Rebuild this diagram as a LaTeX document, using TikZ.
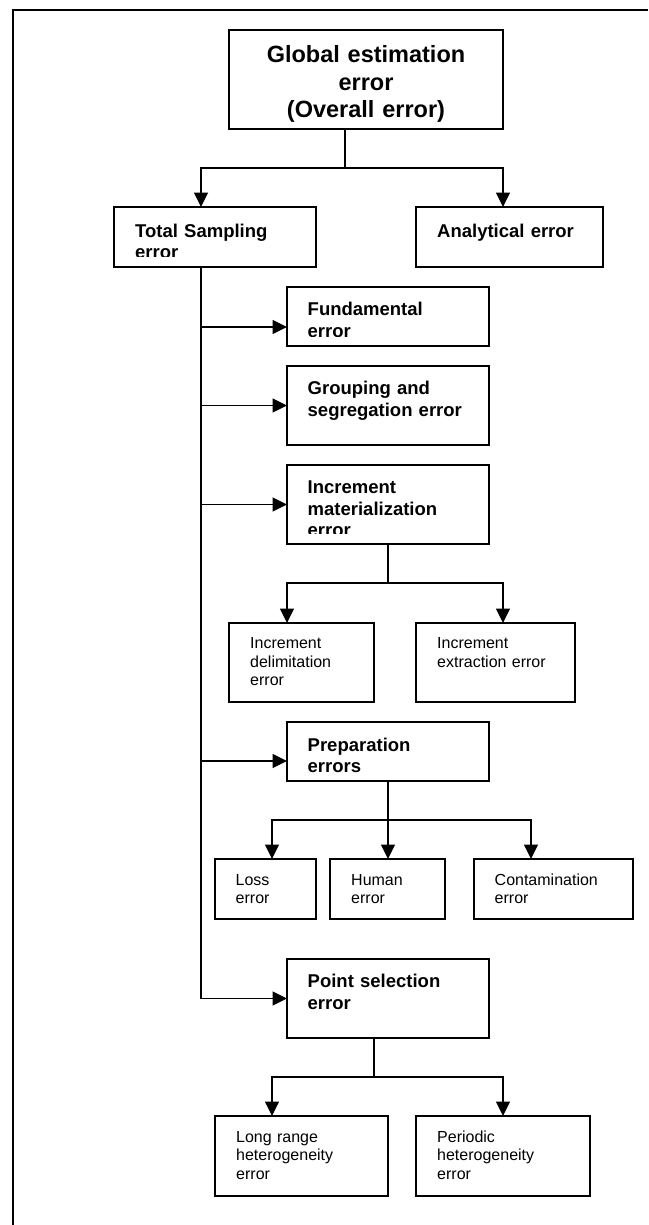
\documentclass[tikz,border=0pt]{standalone}
\usepackage{fontspec}
\setmainfont{Liberation Sans}
\usetikzlibrary{arrows.meta}
\begin{document}
\begin{tikzpicture}[x=1pt,y=-1pt,
  box/.style={draw, line width=2pt, inner sep=0pt, outer sep=0pt},
  wire/.style={line width=1.3pt},
  arr/.style={wire, -{Triangle[length=14.5pt,width=14pt]}},
  bigtxt/.style={font=\fontsize{23.5}{27.5}\selectfont\bfseries, inner sep=0pt,
    text width=274pt, align=center, anchor=base},
  boldtxt/.style={font=\fontsize{18.5}{21.6}\selectfont\bfseries, inner sep=0pt,
    text width=190pt, align=left, anchor=base west},
  plaintxt/.style={font=\fontsize{16}{18.5}\selectfont, inner sep=0pt,
    text width=150pt, align=left, anchor=base west},
]
\useasboundingbox (0,0) rectangle (648,1225);

% outer frame (only top and left edges fall inside the page)
\draw[line width=1.2pt] (13,1225) |- (648,10);

% boxes
\node[box, minimum width=274pt, minimum height=99pt] (title)  at (366,79.5) {};
\node[box, minimum width=202pt, minimum height=60pt] (tsamp)  at (215,237) {};
\node[box, minimum width=187pt, minimum height=60pt] (anal)   at (509.5,237) {};
\node[box, minimum width=202pt, minimum height=59pt] (fund)   at (388,316.5) {};
\node[box, minimum width=202pt, minimum height=79pt] (group)  at (388,405.5) {};
\node[box, minimum width=202pt, minimum height=79pt] (im)     at (388,504.5) {};
\node[box, minimum width=145pt, minimum height=79pt] (idel)   at (301.5,662.5) {};
\node[box, minimum width=159pt, minimum height=79pt] (iext)   at (495.5,662.5) {};
\node[box, minimum width=202pt, minimum height=59pt] (prep)   at (388,751.5) {};
\node[box, minimum width=101pt, minimum height=60pt] (loss)   at (265.5,889) {};
\node[box, minimum width=115pt, minimum height=60pt] (human)  at (387.5,889) {};
\node[box, minimum width=159pt, minimum height=60pt] (contam) at (553.5,889) {};
\node[box, minimum width=202pt, minimum height=79pt] (psel)   at (388,998.5) {};
\node[box, minimum width=173pt, minimum height=80pt] (lrange) at (301.5,1156) {};
\node[box, minimum width=174pt, minimum height=80pt] (period) at (503,1156) {};

% labels
\node[bigtxt] (titleT) at ([yshift=-33pt]title.north)
  {Global estimation\\error\\(Overall error)};
\begin{scope}
  \clip (tsamp.north west) rectangle ([yshift=10.5pt]tsamp.south east);
  \node[boldtxt] (tsampT) at ([xshift=21pt,yshift=-30pt]tsamp.north west) {Total Sampling\\error};
\end{scope}
\node[boldtxt] (analT) at ([xshift=21pt,yshift=-30pt]anal.north west) {Analytical error};
\begin{scope}
  \clip (fund.north west) rectangle ([yshift=10pt]fund.south east);
  \node[boldtxt] (fundT) at ([xshift=20.5pt,yshift=-28.5pt]fund.north west) {Fundamental\\error};
\end{scope}
\node[boldtxt] (groupT) at ([xshift=20.5pt,yshift=-28.5pt]group.north west) {Grouping and\\segregation error};
\begin{scope}
  \clip (im.north west) rectangle ([yshift=11pt]im.south east);
  \node[boldtxt] (imT) at ([xshift=20.5pt,yshift=-28.5pt]im.north west) {Increment\\materialization\\error};
\end{scope}
\node[plaintxt] (idelT) at ([xshift=21pt,yshift=-25.5pt]idel.north west) {Increment\\delimitation\\error};
\node[plaintxt] (iextT) at ([xshift=21pt,yshift=-25.5pt]iext.north west) {Increment\\extraction error};
\node[boldtxt] (prepT) at ([xshift=20.5pt,yshift=-29pt]prep.north west) {Preparation\\errors};
\node[plaintxt] (lossT) at ([xshift=20.5pt,yshift=-26pt]loss.north west) {Loss\\error};
\node[plaintxt] (humanT) at ([xshift=21pt,yshift=-26pt]human.north west) {Human\\error};
\node[plaintxt] (contamT) at ([xshift=20.5pt,yshift=-26pt]contam.north west) {Contamination\\error};
\node[boldtxt] (pselT) at ([xshift=20.5pt,yshift=-28.5pt]psel.north west) {Point selection\\error};
\node[plaintxt] (lrangeT) at ([xshift=21pt,yshift=-26pt]lrange.north west) {Long range\\heterogeneity\\error};
\node[plaintxt] (periodT) at ([xshift=21pt,yshift=-26pt]period.north west) {Periodic\\heterogeneity\\error};

% junctions and branch positions
\coordinate (j0) at (345,168);
\coordinate (trunk) at (201,0);
\coordinate (xA) at (503,0);
\coordinate (xL) at (287,0);
\coordinate (xLo) at (272,0);
\coordinate (xC) at (531,0);
\coordinate (bF) at (201,327);
\coordinate (bP) at (201,761);
\coordinate (j1) at (388,583);
\coordinate (j2) at (388,820);
\coordinate (j3) at (374,1077);

% top level
\draw[wire] (title.south -| j0) -- (j0);
\draw[arr] (j0) -| (tsamp.north -| trunk);
\draw[arr] (j0) -| (anal.north -| xA);

% sampling trunk and its branches
\draw[arr] (tsamp.south -| trunk) |- (psel.west);
\draw[arr] (bF) -- (bF -| fund.west);
\draw[arr] (group.west -| trunk) -- (group.west);
\draw[arr] (im.west -| trunk) -- (im.west);
\draw[arr] (bP) -- (bP -| prep.west);

% increment materialization
\draw[wire] (im.south) -- (j1);
\draw[arr] (j1) -| (idel.north -| xL);
\draw[arr] (j1) -| (iext.north -| xA);

% preparation
\draw[wire] (prep.south) -- (j2);
\draw[arr] (j2) -| (loss.north -| xLo);
\draw[arr] (j2) -- (human.north -| j2);
\draw[arr] (j2) -| (contam.north -| xC);

% point selection
\draw[wire] (psel.south -| j3) -- (j3);
\draw[arr] (j3) -| (lrange.north -| xLo);
\draw[arr] (j3) -| (period.north);
\end{tikzpicture}
\end{document}
